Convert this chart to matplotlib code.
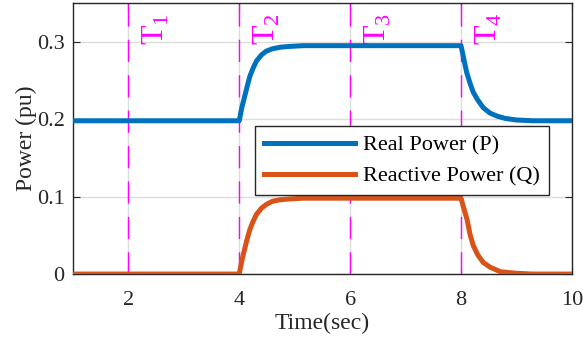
import matplotlib
matplotlib.use('Agg')
import matplotlib.pyplot as plt

# Real power (P)
p_time = [1.0, 4.0, 4.05, 4.10, 4.15, 4.19, 4.25, 4.31, 4.40, 4.49, 4.60, 4.74, 4.90, 5.15,
          8.0, 8.05, 8.10, 8.16, 8.22, 8.30, 8.40, 8.52, 8.65, 8.80, 9.00, 9.30, 10.0]
p_vals = [0.198, 0.198, 0.216, 0.230, 0.244, 0.255, 0.266, 0.275, 0.283, 0.288, 0.291, 0.293, 0.294, 0.295,
          0.295, 0.278, 0.261, 0.247, 0.235, 0.225, 0.215, 0.208, 0.204, 0.201, 0.199, 0.198, 0.198]

# Reactive power (Q)
q_time = [1.0, 4.0, 4.05, 4.10, 4.15, 4.19, 4.25, 4.31, 4.40, 4.49, 4.60, 4.74, 4.90, 5.15,
          8.0, 8.05, 8.11, 8.16, 8.22, 8.30, 8.40, 8.52, 8.71, 9.00, 9.30, 10.0]
q_vals = [0.0, 0.0, 0.018, 0.033, 0.047, 0.057, 0.068, 0.077, 0.085, 0.090, 0.094, 0.096, 0.097, 0.098,
          0.098, 0.085, 0.070, 0.052, 0.037, 0.025, 0.015, 0.009, 0.003, 0.001, 0.0, 0.0]

# interval markers
t_marks = [2, 4, 6, 8]
t_labels = [r'$\mathrm{T}_1$', r'$\mathrm{T}_2$', r'$\mathrm{T}_3$', r'$\mathrm{T}_4$']

plt.rcParams['font.family'] = 'Liberation Serif'
plt.rcParams['mathtext.fontset'] = 'custom'
plt.rcParams['mathtext.rm'] = 'Liberation Serif'
plt.rcParams['lines.scale_dashes'] = False

dark = '#262626'
fig = plt.figure(figsize=(5.83, 3.43), dpi=100)
ax = fig.add_axes([0.125, 0.201, 0.856, 0.790])

for t, lab in zip(t_marks, t_labels):
    ax.axvline(t, color='#ff00ff', lw=1.0, dashes=(16, 9.5), zorder=2)
    ax.text(t + 0.23, 0.296, lab, rotation=90, color='#ff00ff', fontsize=23,
            ha='left', va='bottom')

ax.plot(p_time, p_vals, color='#0072BD', lw=3.6, label='Real Power (P)', zorder=3)
ax.plot(q_time, q_vals, color='#D95319', lw=3.6, label='Reactive Power (Q)', zorder=3)

ax.set_xlim(1, 10)
ax.set_ylim(0, 0.35)
ax.set_xticks([2, 4, 6, 8, 10])
ax.set_yticks([0, 0.1, 0.2, 0.3])
ax.set_yticklabels(['0', '0.1', '0.2', '0.3'])
ax.grid(True, color='#dcdcdc', lw=1.0)
ax.set_axisbelow(True)
ax.tick_params(direction='in', top=True, right=True, labelsize=16, colors=dark, length=5)
ax.tick_params(axis='x', pad=12)
ax.tick_params(axis='y', pad=6)
for s in ax.spines.values():
    s.set_color(dark)
    s.set_linewidth(1.0)

ax.set_xlabel('Time(sec)', fontsize=17, color=dark, labelpad=2)
ax.set_ylabel('Power (pu)', fontsize=17, color=dark, labelpad=0)

leg = ax.legend(loc='upper left', bbox_to_anchor=(0.365, 0.545), fontsize=16, fancybox=False,
                framealpha=1, edgecolor=dark, handlelength=4.1, borderpad=0.4,
                labelspacing=0.45, handletextpad=0.35, borderaxespad=0)
leg.get_frame().set_linewidth(1.0)

fig.savefig('out.png', dpi=100)
